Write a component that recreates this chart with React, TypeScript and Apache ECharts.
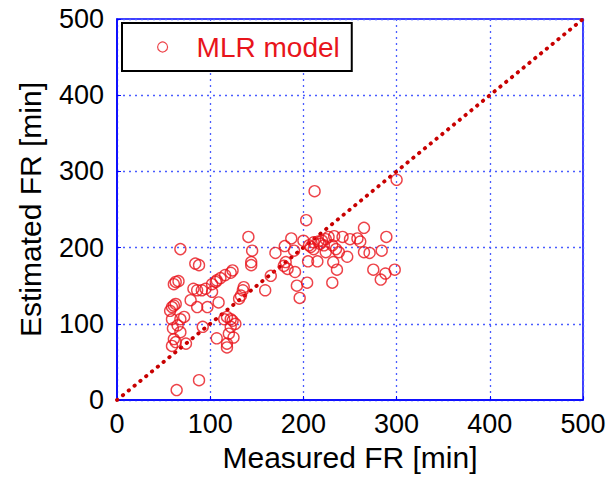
import React, { useEffect, useRef } from "react";
import * as echarts from "echarts";

const seriesName = "MLR model";
const xAxisName = "Measured FR [min]";
const yAxisName = "Estimated FR [min]";
const axisMin = 0;
const axisMax = 500;
const axisInterval = 100;

// [measured, estimated]
const points: [number, number][] = [
  [68, 198], [84, 179], [88, 177], [63, 155], [66, 156], [61, 152],
  [124, 170], [122, 167], [116, 164], [111, 160], [107, 157], [106, 155], [102, 152],
  [82, 146], [86, 144], [91, 144], [95, 146], [102, 142],
  [79, 131], [86, 122], [109, 128], [97, 122],
  [63, 126], [59, 122], [61, 124], [57, 117],
  [59, 106], [68, 106], [72, 109], [65, 98], [68, 89], [61, 80], [63, 76], [59, 71], [74, 74], [60, 94],
  [92, 96], [107, 81],
  [115, 106], [122, 106], [124, 104], [118, 109], [122, 96], [120, 87], [125, 82], [118, 74], [118, 69], [127, 100],
  [88, 26], [64, 13],
  [136, 148], [135, 144], [133, 137], [131, 133],
  [145, 196], [144, 181], [144, 177], [141, 214],
  [159, 144], [165, 163], [170, 193],
  [180, 202], [190, 196],
  [181, 181], [179, 176], [191, 168], [183, 172],
  [193, 150], [204, 154], [196, 134],
  [187, 212], [200, 209], [203, 236], [212, 274],
  [211, 207], [216, 208], [220, 209], [224, 211], [227, 214], [233, 215], [242, 214], [250, 211], [258, 212], [261, 208],
  [218, 205], [222, 203], [208, 201], [211, 198], [206, 203],
  [224, 194], [235, 198], [238, 194], [247, 188], [231, 203],
  [265, 194], [271, 193], [284, 196],
  [205, 182], [215, 182], [232, 181], [236, 171],
  [275, 171], [288, 166], [283, 158], [298, 171],
  [231, 154],
  [265, 226], [289, 214], [300, 289],
];

const diagonal: [number, number][] = [
  [0, 0],
  [500, 500],
];

const FONT = "'Liberation Sans', Arial, sans-serif";
const RED = "#e8141b";

export default function App() {
  const ref = useRef<HTMLDivElement>(null);
  useEffect(() => {
    if (!ref.current) return;
    const chart = echarts.init(ref.current, null, { renderer: "svg" });
    const axisCommon = {
      type: "value" as const,
      min: axisMin,
      max: axisMax,
      interval: axisInterval,
      nameLocation: "middle" as const,
      nameTextStyle: { fontSize: 30, color: "#000", fontFamily: FONT },
      axisLine: { show: true, lineStyle: { color: "#0000ff", width: 1.5 } },
      axisTick: { show: true, inside: true, length: 4, lineStyle: { color: "#0000ff" } },
      axisLabel: { fontSize: 27, color: "#000", fontFamily: FONT },
      splitLine: {
        show: true,
        lineStyle: { color: "#4a5cff", type: [2, 4] as number[], width: 1.3 },
      },
    };
    chart.setOption({
      animation: false,
      backgroundColor: "#ffffff",
      grid: {
        left: 117,
        right: 26,
        top: 19,
        bottom: 77,
        show: true,
        borderColor: "#0000ff",
        borderWidth: 1.5,
        backgroundColor: "transparent",
      },
      legend: {
        left: 122,
        top: 23,
        orient: "horizontal",
        backgroundColor: "#ffffff",
        borderColor: "#000000",
        borderWidth: 2,
        borderRadius: 0,
        padding: [10, 12, 10, 35],
        itemWidth: 10,
        itemHeight: 10,
        data: [
          {
            name: seriesName,
            icon: "circle",
            itemStyle: { color: "#ffffff", borderColor: RED, borderWidth: 1.2 },
          },
        ],
        textStyle: {
          fontSize: 28,
          color: RED,
          fontFamily: FONT,
          padding: [0, 0, 0, 24],
        },
      },
      xAxis: {
        ...axisCommon,
        name: xAxisName,
        nameGap: 42,
        axisLabel: { ...axisCommon.axisLabel, margin: 10 },
      },
      yAxis: {
        ...axisCommon,
        name: yAxisName,
        nameGap: 72,
        axisLabel: { ...axisCommon.axisLabel, margin: 13 },
      },
      series: [
        {
          name: "diagonal",
          type: "line",
          data: diagonal,
          symbol: "none",
          silent: true,
          z: 1,
          lineStyle: { color: "#c80000", width: 3.8, type: [0.5, 7], cap: "round" },
        },
        {
          name: seriesName,
          type: "scatter",
          data: points,
          symbol: "circle",
          symbolSize: 11,
          z: 2,
          itemStyle: { color: "transparent", borderColor: RED, borderWidth: 1.4 },
        },
      ],
    });
    return () => chart.dispose();
  }, []);
  return (
    <div
      ref={ref}
      style={{ position: "fixed", left: 0, top: 0, width: 609, height: 477 }}
    />
  );
}
